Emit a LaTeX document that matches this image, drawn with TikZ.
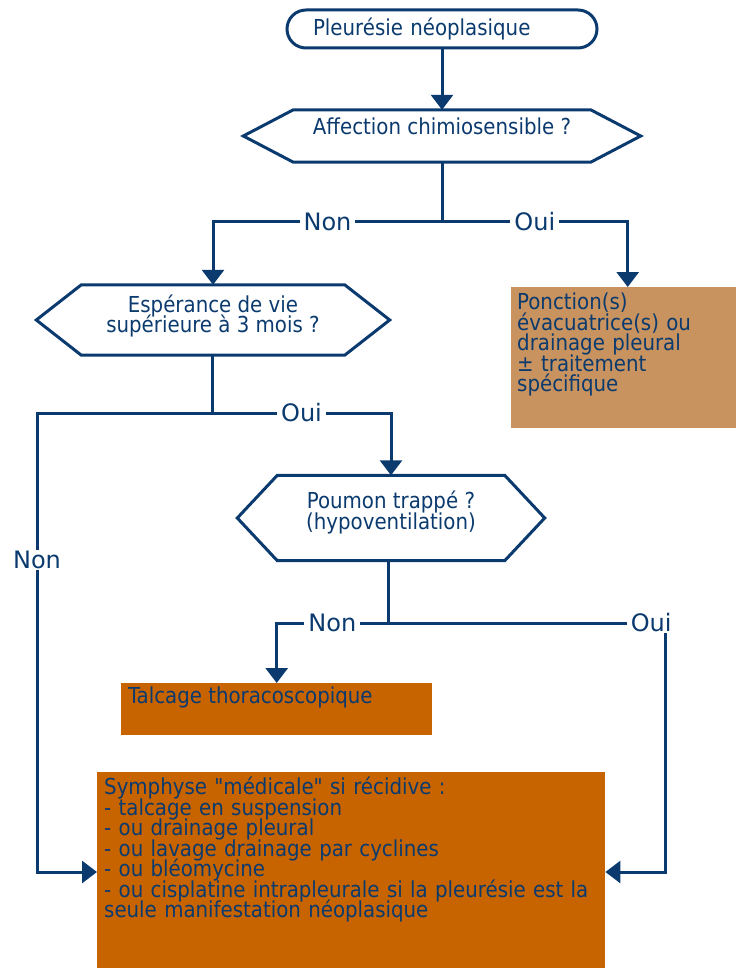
\documentclass[tikz,border=0pt]{standalone}
\usepackage{fontspec}
\setmainfont{DejaVu Sans Condensed}
\newfontfamily\lblfont{DejaVu Sans}
\usetikzlibrary{arrows.meta}
\definecolor{navy}{HTML}{0B3A6E}
\definecolor{rust}{HTML}{C86400}
\definecolor{tan}{HTML}{C8935E}
\newcommand{\tightlines}{\lineskiplimit=-20pt\relax\lineskip=0pt\relax}
\newcommand{\hexframe}[2]{%
  \draw[line] (#1.north west) -- (#1.north east) -- ([xshift=#2pt]#1.east)
    -- (#1.south east) -- (#1.south west) -- ([xshift=-#2pt]#1.west) -- cycle;}

\begin{document}
\begin{tikzpicture}[
    x=1pt, y=-1pt,
    every node/.style={text=navy, font=\fontsize{22}{20.5}\selectfont\tightlines},
    line/.style={draw=navy, line width=3pt},
    arr/.style={line, -{Triangle[width=22pt,length=15pt]}},
    hexbox/.style={inner sep=0pt, align=center},
    lbl/.style={fill=white, inner xsep=4pt, inner ysep=1pt,
        font=\lblfont\fontsize{24}{26}\selectfont},
    fillbox/.style={fill=#1, inner sep=0pt, anchor=north west},
    boxtext/.style={anchor=north west, align=left, inner sep=0pt},
]
\useasboundingbox (0,0) rectangle (736,968);

% start
\node[line, rounded corners=19pt, minimum width=310pt, minimum height=38pt,
    inner xsep=26pt, text width=258pt, align=left] (p0) at (442,29)
    {Pleurésie néoplasique};

% questions
\node[hexbox, minimum width=297pt, minimum height=52pt, text depth=20pt]
    (q1) at (442,136) {Affection chimiosensible ?};
\hexframe{q1}{50}
\node[hexbox, minimum width=263pt, minimum height=70pt, text depth=13pt]
    (q2) at (213,320) {Espérance de vie\\supérieure à 3 mois ?};
\hexframe{q2}{45}
\node[hexbox, minimum width=227pt, minimum height=85pt, text depth=16pt]
    (q3) at (391,518) {Poumon trappé ?\\(hypoventilation)};
\hexframe{q3}{40}

% outcomes
\node[fillbox=tan, minimum width=225pt, minimum height=141pt] (r1) at (511,287) {};
\node[boxtext, text width=215pt] at ([shift={(6,6)}]r1.north west)
    {Ponction(s)\\évacuatrice(s) ou\\drainage pleural\\± traitement\\spécifique};
\node[fillbox=rust, minimum width=311pt, minimum height=52pt] (t1) at (121,683) {};
\node[boxtext] at ([shift={(7,4)}]t1.north west) {Talcage thoracoscopique};
\node[fillbox=rust, minimum width=508pt, minimum height=196pt] (b1) at (97,772) {};
\node[boxtext, text width=500pt] at ([shift={(7,5)}]b1.north west)
    {Symphyse \textquotedbl médicale\textquotedbl\ si récidive :\\
     - talcage en suspension\\
     - ou drainage pleural\\
     - ou lavage drainage par cyclines\\
     - ou bléomycine\\
     - ou cisplatine intrapleurale si la pleurésie est la\\
     seule manifestation néoplasique};

% connectors
\coordinate (s1) at (442,222);
\coordinate (s2) at (212,413);
\coordinate (s3) at (388,623);
\coordinate (c1) at (37,872);
\coordinate (c2) at (665,872);

\draw[arr] (p0) -- (q1);
\draw[line] (q1.south) -- (s1);
\draw[arr] (s1) -| node[lbl, pos=0.25] {Non} (q2.north);
\draw[arr] (s1) -| node[lbl, pos=0.25] {Oui} ([xshift=4pt]r1.north);

\draw[line] (s2 |- q2.south) -- (s2);
\draw[arr] (s2) -| node[lbl, pos=0.25] {Oui} (q3.north);
\draw[arr] (s2) -| node[lbl, pos=0.66] {Non} (c1) -- (b1.west |- c1);

\draw[line] (s3 |- q3.south) -- (s3);
\draw[arr] (s3) -| node[lbl, pos=0.25] {Non} (t1.north);
\draw[arr] (s3) -| node[lbl, pos=0.475] {Oui} (c2) -- (b1.east |- c2);
\end{tikzpicture}
\end{document}
